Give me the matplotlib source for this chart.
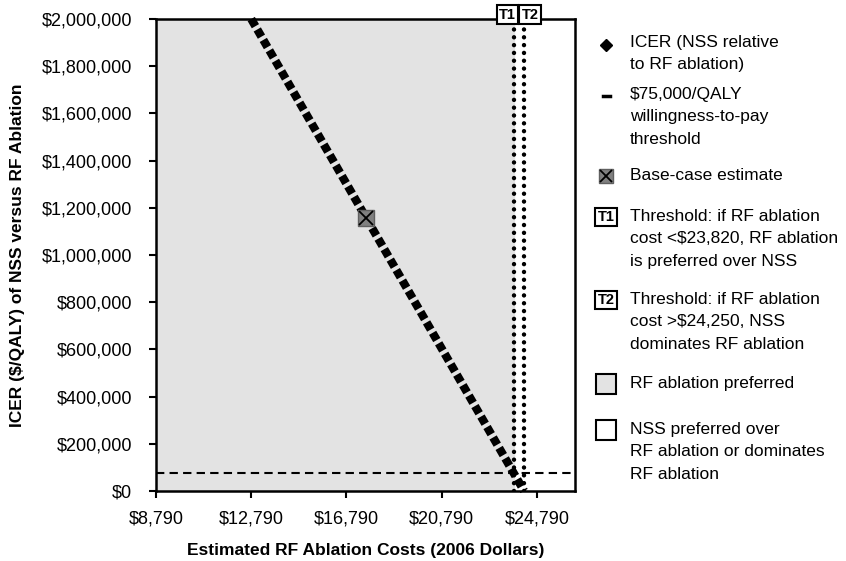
import matplotlib.pyplot as plt
from matplotlib.ticker import FuncFormatter

plt.rcParams['font.family'] = ['Liberation Sans', 'DejaVu Sans']

# ICER of NSS vs RF ablation as a function of RF ablation cost
icer_cost = [12790, 24250]
icer_value = [2000000, 0]

base_cost = 17610
base_icer = 1158000

wtp_threshold = 75000
t1_cost = 23820
t2_cost = 24250

x_min, x_max = 8790, 26390
x_ticks = [8790, 12790, 16790, 20790, 24790]
y_ticks = [0, 200000, 400000, 600000, 800000, 1000000,
           1200000, 1400000, 1600000, 1800000, 2000000]

legend_items = [
    ("diamond", "ICER (NSS relative\nto RF ablation)"),
    ("dash", "$75,000/QALY\nwillingness-to-pay\nthreshold"),
    ("base", "Base-case estimate"),
    ("T1", "Threshold: if RF ablation\ncost <$23,820, RF ablation\nis preferred over NSS"),
    ("T2", "Threshold: if RF ablation\ncost >$24,250, NSS\ndominates RF ablation"),
    ("gray", "RF ablation preferred"),
    ("white", "NSS preferred over\nRF ablation or dominates\nRF ablation"),
]
legend_y = [43, 95, 176, 217, 300, 384, 430]

W, H = 846, 561
fig = plt.figure(figsize=(W / 100, H / 100), dpi=100)
ax = fig.add_axes([156 / W, 1 - 491 / H, (575 - 156) / W, (491 - 19) / H])

ax.set_xlim(x_min, x_max)
ax.set_ylim(0, 2000000)

# shaded region where RF ablation is preferred
ax.axvspan(x_min, t1_cost, color='#e3e3e3', zorder=0)

ax.axhline(wtp_threshold, color='black', lw=1.5, ls=(0, (4, 2.5)), zorder=2,
           clip_on=False)
for t in (t1_cost, t2_cost):
    ax.axvline(t, color='black', lw=3.2, ls=(0, (0.01, 1.75)),
               dash_capstyle='round', zorder=2)

ax.plot(icer_cost, icer_value, color='black', lw=6, ls=(0, (1, 0.45)),
        dash_capstyle='butt', zorder=3, clip_on=False)

ax.plot(base_cost, base_icer, marker='s', ms=11, mfc='#808080',
        mec='#606060', mew=1, zorder=4)
ax.plot(base_cost, base_icer, marker='x', ms=10, mec='black', mew=1.3,
        zorder=5)

tag_box = dict(boxstyle='square,pad=0.17', fc='white', ec='black', lw=1.5)
for label, t, dx in (("T1", t1_cost, -4.6), ("T2", t2_cost, 4.2)):
    ax.annotate(label, xy=(t, 1), xycoords=('data', 'axes fraction'),
                xytext=(dx, 3), textcoords='offset points',
                ha='center', va='center', fontsize=10.5, fontweight='bold',
                bbox=tag_box, annotation_clip=False, zorder=6)

ax.set_xticks(x_ticks)
ax.set_yticks(y_ticks)
ax.xaxis.set_major_formatter(FuncFormatter(lambda v, p: f"${v:,.0f}"))
ax.yaxis.set_major_formatter(FuncFormatter(lambda v, p: f"${v:,.0f}"))
ax.tick_params(axis='both', direction='out', length=5, width=1.5,
               labelsize=13, color='black')
ax.tick_params(axis='y', pad=12)
ax.tick_params(axis='x', pad=9)
for s in ax.spines.values():
    s.set_linewidth(1.8)

ax.set_xlabel("Estimated RF Ablation Costs (2006 Dollars)", fontsize=12.5,
              fontweight='bold', labelpad=11)
fig.text(18 / W, 1 - 255 / H, "ICER ($/QALY) of NSS versus RF Ablation",
         rotation=90, ha='center', va='center', fontsize=12.5,
         fontweight='bold')

# legend drawn in pixel coordinates
lax = fig.add_axes([0, 0, 1, 1], facecolor='none')
lax.set_xlim(0, W)
lax.set_ylim(H, 0)
lax.axis('off')

kx = 606
for (kind, text), y in zip(legend_items, legend_y):
    if kind == "diamond":
        lax.plot(kx, y + 2, marker='D', ms=6, color='black')
    elif kind == "dash":
        lax.plot([kx - 3.5, kx + 3.5], [y + 1, y + 1], color='black', lw=2.5)
    elif kind == "base":
        lax.plot(kx, y, marker='s', ms=10, mfc='#808080', mec='#606060')
        lax.plot(kx, y, marker='x', ms=9, mec='black', mew=1.3)
    elif kind in ("T1", "T2"):
        lax.text(kx, y, kind, ha='center', va='center', fontsize=10.5,
                 fontweight='bold', bbox=tag_box)
    elif kind == "gray":
        lax.plot(kx, y, marker='s', ms=14, mfc='#e3e3e3', mec='black', mew=1.5)
    elif kind == "white":
        lax.plot(kx, y, marker='s', ms=14, mfc='white', mec='black', mew=1.5)
    lax.text(630, y - 8, text, ha='left', va='top', fontsize=12.5,
             linespacing=1.62)

fig.savefig("out.png", dpi=100)
